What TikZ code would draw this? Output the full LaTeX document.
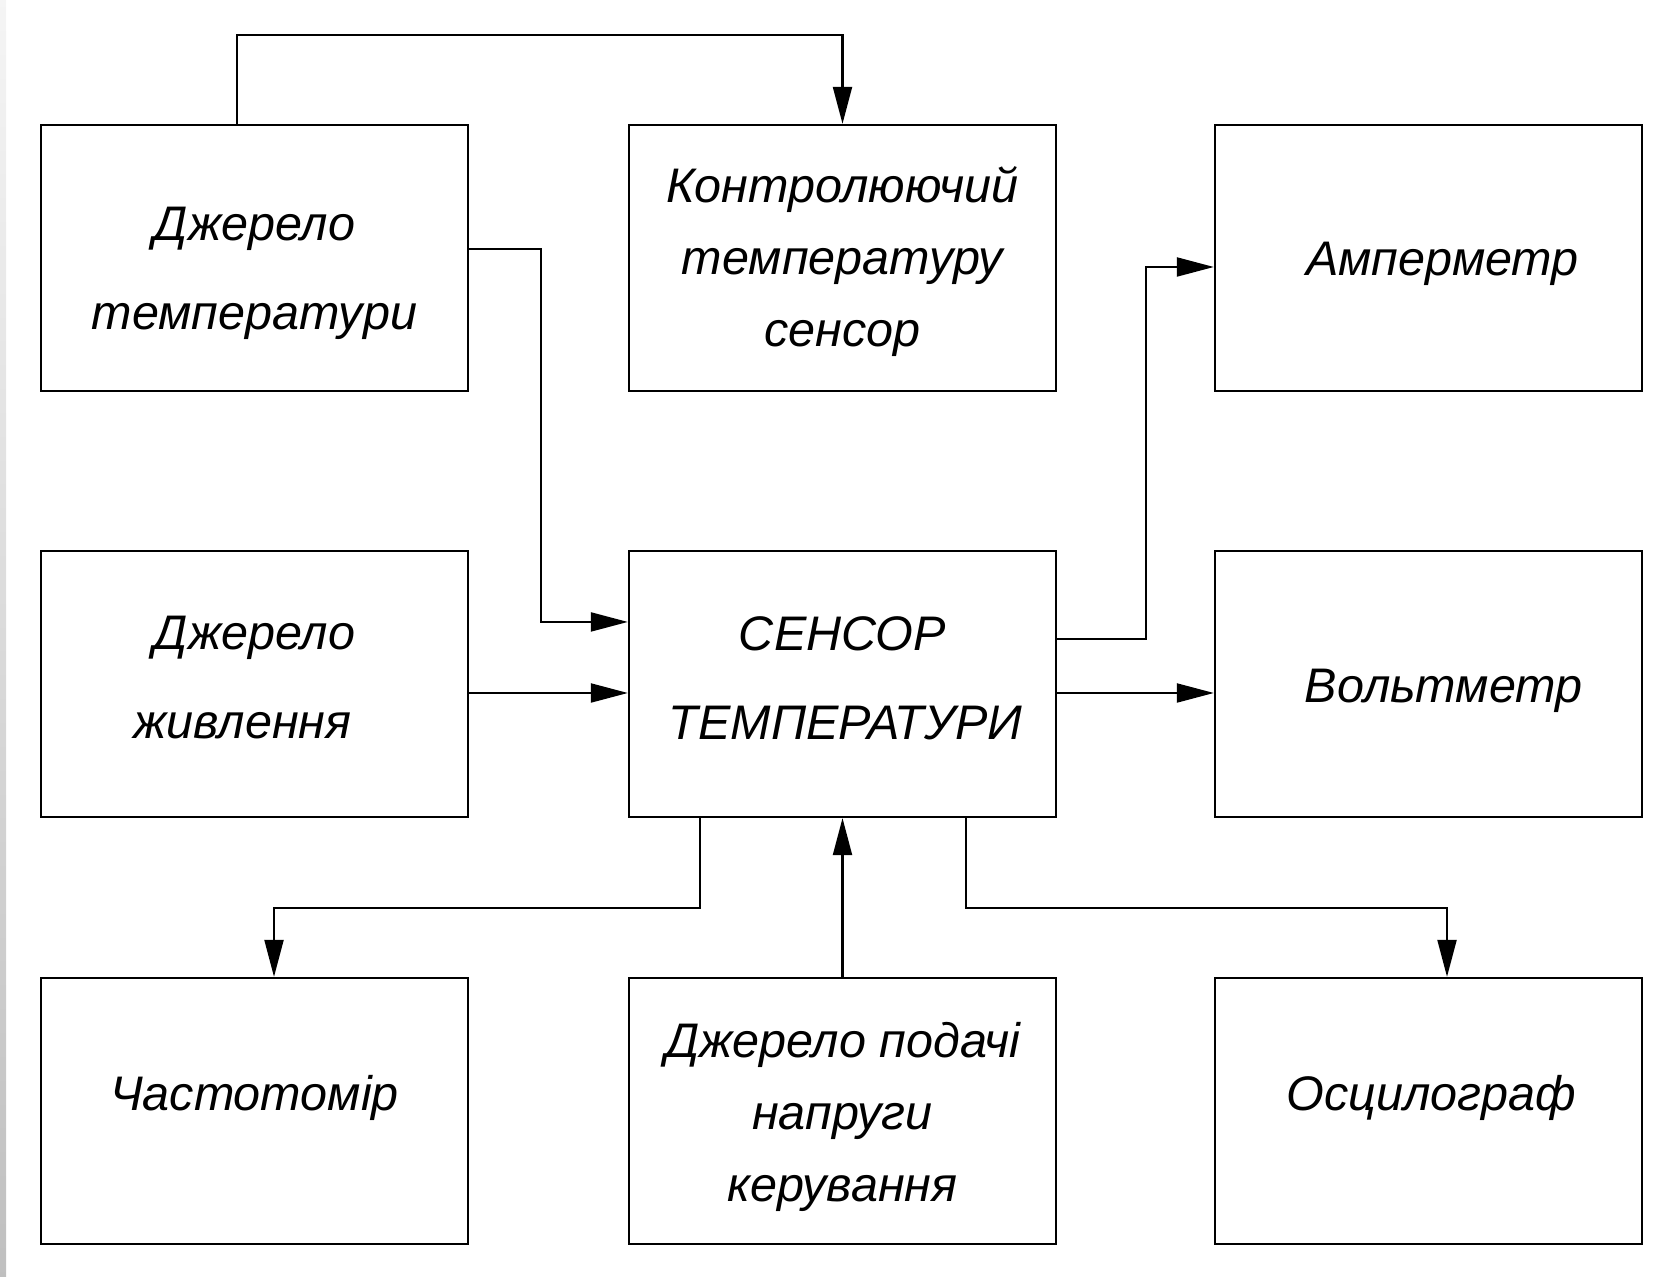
\documentclass[tikz,border=0pt]{standalone}
\usepackage{fontspec}
\setmainfont{Liberation Sans}
\usepackage{tikz}
\usetikzlibrary{arrows.meta, positioning, calc}
% zsuv ryadka tekstu bez zminy rozmiru korobky
\newcommand{\sdvig}[3]{\raisebox{#2}[\height][\depth]{\hspace*{#1}#3\hspace*{-#1}}}

\begin{document}
\begin{tikzpicture}[x=0.01cm, y=0.01cm,
  blk/.style={rectangle, draw=black, line width=0.6pt,
    minimum width=4.27cm, minimum height=2.66cm, inner sep=0pt,
    align=center, font=\fontsize{13.8}{25.3}\selectfont\itshape},
  blkt/.style={blk, font=\fontsize{13.8}{20.5}\selectfont\itshape},
  arr/.style={-{Triangle[length=0.37cm, width=0.19cm]}, black, line width=0.6pt}
]
\useasboundingbox (0,0) rectangle (1657,-1277);
\shade[top color=gray!8, bottom color=gray!50] (0,0) rectangle (6,-1277);

%% -- Ryad 1 ------------------------------------------------------------
\node[blk]  (DT) at (254.5, -258) {\sdvig{0cm}{-0.15cm}{Джерело}\\\sdvig{0cm}{-0.15cm}{температури}};
\node[blkt] (KS) at (842.5, -258) {\sdvig{0cm}{-0.04cm}{Контролюючий}\\\sdvig{0cm}{-0.04cm}{температуру}\\\sdvig{0cm}{-0.04cm}{сенсор}};
\node[blk]  (AM) at (1428.5,-258) {\sdvig{0.14cm}{-0.06cm}{Амперметр}};

%% -- Ryad 2 ------------------------------------------------------------
\node[blk]  (DZ) at (254.5, -684) {\sdvig{0cm}{0.06cm}{Джерело}\\\sdvig{-0.12cm}{0.06cm}{живлення}};
\node[blk]  (ST) at (842.5, -684) {\sdvig{0cm}{0.06cm}{СЕНСОР}\\\sdvig{0.03cm}{0.06cm}{ТЕМПЕРАТУРИ}};
\node[blk]  (VM) at (1428.5,-684) {\sdvig{0.15cm}{-0.07cm}{Вольтметр}};

%% -- Ryad 3 ------------------------------------------------------------
\node[blk]  (CH) at (254.5, -1111) {\sdvig{0cm}{0.13cm}{Частотомір}};
\node[blkt] (DN) at (842.5, -1111) {\sdvig{0cm}{-0.06cm}{Джерело подачі}\\\sdvig{0cm}{-0.06cm}{напруги}\\\sdvig{0cm}{-0.06cm}{керування}};
\node[blk]  (OS) at (1428.5,-1111) {\sdvig{0.03cm}{0.13cm}{Осцилограф}};

%% -- Zv'yazky ----------------------------------------------------------
\draw[arr] ([xshift=-0.175cm]DT.north) -- ++(0,89) -| (KS.north);
\draw[arr] ([yshift=0.09cm]DT.east) -- ++(72,0) |- ([yshift=0.62cm]ST.west);
\draw[arr] ([yshift=-0.09cm]DZ.east) -- ([yshift=-0.09cm]ST.west);

\draw[arr] ([yshift=0.45cm]ST.east) -- ++(89,0) |- ([yshift=-0.09cm]AM.west);
\draw[arr] ([yshift=-0.09cm]ST.east) -- ([yshift=-0.09cm]VM.west);

\draw[arr] ([xshift=-1.425cm]ST.south) -- ++(0,-90) -| ([xshift=0.195cm]CH.north);
\draw[arr] (DN.north) -- (ST.south);
\draw[arr] ([xshift=1.235cm]ST.south) -- ++(0,-90) -| ([xshift=0.185cm]OS.north);

\end{tikzpicture}
\end{document}
